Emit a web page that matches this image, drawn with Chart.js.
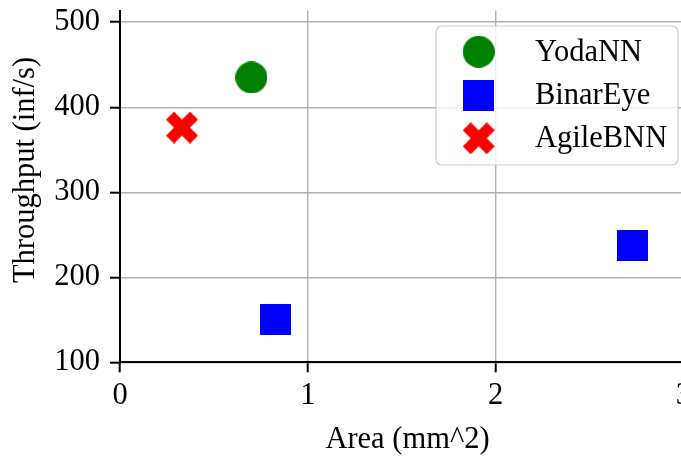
<!DOCTYPE html>
<html><head><meta charset="utf-8">
<script src="https://cdn.jsdelivr.net/npm/chart.js@4"></script>
<style>html,body{margin:0;padding:0;overflow:hidden;background:#fff;width:681px;height:459px}#wrap{width:681px;height:459px;overflow:hidden;position:relative}</style>
</head><body><div id="wrap"><canvas id="c" width="684" height="459"></canvas></div>
<script>
// ---- data ----
const seriesNames = ['YodaNN', 'BinarEye', 'AgileBNN'];
const yodaArea = [0.70];
const yodaThroughput = [435];
const binarEyeArea = [0.83, 2.73];
const binarEyeThroughput = [150, 237];
const agileArea = [0.33];
const agileThroughput = [376];
const xTicks = [0, 1, 2, 3];
const yTicks = [100, 200, 300, 400, 500];
const xTitle = 'Area (mm^2)';
const yTitle = 'Throughput (inf/s)';

// ---- styles ----
const FONT = {family: '"Liberation Serif", "Times New Roman", serif', size: 30.5};
const fontStr = FONT.size + 'px ' + FONT.family;

function makeMarker(kind, color, size) {
  const c = document.createElement('canvas');
  c.width = size; c.height = size;
  const g = c.getContext('2d');
  g.fillStyle = color;
  const h = size / 2;
  if (kind === 'circle') { g.beginPath(); g.arc(h, h, h, 0, Math.PI * 2); g.fill(); }
  else if (kind === 'square') { g.fillRect(0, 0, size, size); }
  else {
    const pts = [[-1,-2],[0,-1],[1,-2],[2,-1],[1,0],[2,1],[1,2],[0,1],[-1,2],[-2,1],[-1,0],[-2,-1]];
    g.beginPath();
    pts.forEach(([px, py], i) => { const X = h + px * size / 4, Y = h + py * size / 4; i ? g.lineTo(X, Y) : g.moveTo(X, Y); });
    g.closePath(); g.fill();
  }
  return c;
}
const markers = [
  makeMarker('circle', '#008000', 32),
  makeMarker('square', '#0000ff', 31),
  makeMarker('x', '#ff0000', 32)
];
const colors = ['#008000', '#0000ff', '#ff0000'];

function pts(xs, ys) { return xs.map((x, i) => ({x: x, y: ys[i]})); }
const seriesData = [pts(yodaArea, yodaThroughput), pts(binarEyeArea, binarEyeThroughput), pts(agileArea, agileThroughput)];

const boxLegend = {
  id: 'boxLegend',
  afterDatasetsDraw(chart) {
    const ctx = chart.ctx;
    const bx = 436, by = 26, bw = 242, bh = 139, r = 6;
    ctx.save();
    ctx.beginPath();
    ctx.roundRect(bx, by, bw, bh, r);
    ctx.fillStyle = 'rgba(255,255,255,0.8)';
    ctx.fill();
    ctx.lineWidth = 1.2;
    ctx.strokeStyle = '#cccccc';
    ctx.stroke();
    ctx.font = fontStr;
    ctx.fillStyle = '#000';
    ctx.textBaseline = 'middle';
    ctx.textAlign = 'left';
    chart.data.datasets.forEach((ds, i) => {
      const cy = by + 25.7 + i * 43.3;
      const img = markers[i];
      ctx.drawImage(img, 478.7 - img.width / 2, cy - img.height / 2);
      ctx.fillText(ds.label, 535, cy + 1);
    });
    ctx.restore();
  }
};

const axisTitles = {
  id: 'axisTitles',
  afterDraw(chart) {
    const ctx = chart.ctx;
    ctx.save();
    ctx.font = fontStr;
    ctx.fillStyle = '#000';
    ctx.textAlign = 'center';
    ctx.textBaseline = 'alphabetic';
    ctx.fillText(xTitle, 407.5, 447.5);
    ctx.translate(34, 170);
    ctx.rotate(-Math.PI / 2);
    ctx.fillText(yTitle, 0, 0);
    ctx.restore();
  }
};

new Chart(document.getElementById('c'), {
  type: 'scatter',
  data: {
    datasets: seriesNames.map((name, i) => ({
      label: name,
      data: seriesData[i],
      pointStyle: markers[i],
      backgroundColor: colors[i],
      borderColor: colors[i],
      pointRadius: 16,
      pointHoverRadius: 16
    }))
  },
  options: {
    responsive: false,
    animation: false,
    layout: {autoPadding: false, padding: {left: 0, top: 10.7, right: 0.7, bottom: 0}},
    plugins: {legend: {display: false}, tooltip: {enabled: false}},
    scales: {
      x: {
        type: 'linear', min: xTicks[0], max: xTicks[xTicks.length - 1],
        afterBuildTicks(s) { s.ticks = xTicks.map(v => ({value: v})); },
        ticks: {font: FONT, color: '#000', padding: 5, maxRotation: 0, autoSkip: false},
        grid: {color: '#b0b0b0', lineWidth: 1.4, tickColor: '#000', tickLength: 10, tickWidth: 2},
        border: {color: '#000', width: 2},
        title: {display: false},
        afterFit(s) { s.height = 459 - 362.3; s.paddingLeft = 0; s.paddingRight = 0; }
      },
      y: {
        type: 'linear', min: 100, max: 513.5,
        afterBuildTicks(s) { s.ticks = yTicks.map(v => ({value: v})); },
        ticks: {font: FONT, color: '#000', padding: 10},
        grid: {color: '#b0b0b0', lineWidth: 1.4, tickColor: '#000', tickLength: 10, tickWidth: 2},
        border: {color: '#000', width: 2},
        title: {display: false},
        afterFit(s) { s.width = 120; s.paddingTop = 0; s.paddingBottom = 0; }
      }
    }
  },
  plugins: [boxLegend, axisTitles]
});
</script></body></html>
